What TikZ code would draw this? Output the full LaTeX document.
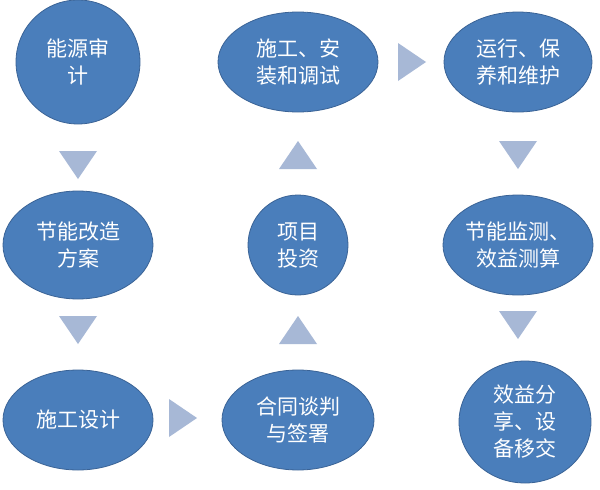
\documentclass[tikz,border=0pt]{standalone}
\usepackage{fontspec}
\setmainfont{Noto Sans CJK SC}
\usetikzlibrary{shapes.geometric}
\definecolor{nodeblue}{HTML}{4A7EBB}
\definecolor{nodeedge}{HTML}{3A6396}
\definecolor{arrowc}{HTML}{A7B8D6}
\tikzset{
  x=1pt,y=-1pt,
  bubble/.style={ellipse,fill=nodeblue,draw=nodeedge,line width=0.8pt,text=white,
    font=\fontsize{21}{27}\selectfont,align=center,inner sep=0pt},
  tri/.style={fill=arrowc,draw=none}
}
\newcommand{\tridown}[2]{\fill[arrowc] (#1-19,#2-14) -- (#1+19,#2-14) -- (#1,#2+14) -- cycle;}
\newcommand{\triup}[2]{\fill[arrowc] (#1-19,#2+14) -- (#1+19,#2+14) -- (#1,#2-14) -- cycle;}
\newcommand{\triright}[2]{\fill[arrowc] (#1-14,#2-19) -- (#1-14,#2+19) -- (#1+14,#2) -- cycle;}
\begin{document}
\begin{tikzpicture}
\useasboundingbox[fill=white] (0,0) rectangle (600,490);
\node[bubble,minimum width=124pt,minimum height=124pt] (a) at (78,62) {能源审\\计};
\node[bubble,minimum width=160pt,minimum height=100pt] (b) at (298,62) {施工、安\\装和调试};
\node[bubble,minimum width=148pt,minimum height=100pt] (c) at (518,62) {运行、保\\养和维护};
\node[bubble,minimum width=150pt,minimum height=108pt] (d) at (78,245) {节能改造\\方案};
\node[bubble,minimum width=100pt,minimum height=100pt] (e) at (298,245) {项目\\投资};
\node[bubble,minimum width=150pt,minimum height=100pt] (f) at (518,245) {节能监测、\\效益测算};
\node[bubble,minimum width=150pt,minimum height=100pt] (g) at (78,420) {施工设计};
\node[bubble,minimum width=152pt,minimum height=100pt] (h) at (298,420) {合同谈判\\与签署};
\node[bubble,minimum width=132pt,minimum height=122pt] (i) at (525,422) {效益分\\享、设\\备移交};
\tridown{78}{165}
\tridown{78}{330}
\triright{183}{418}
\triup{298}{155}
\triup{298}{330}
\triright{412}{62}
\tridown{518}{155}
\tridown{518}{325}
\end{tikzpicture}
\end{document}
